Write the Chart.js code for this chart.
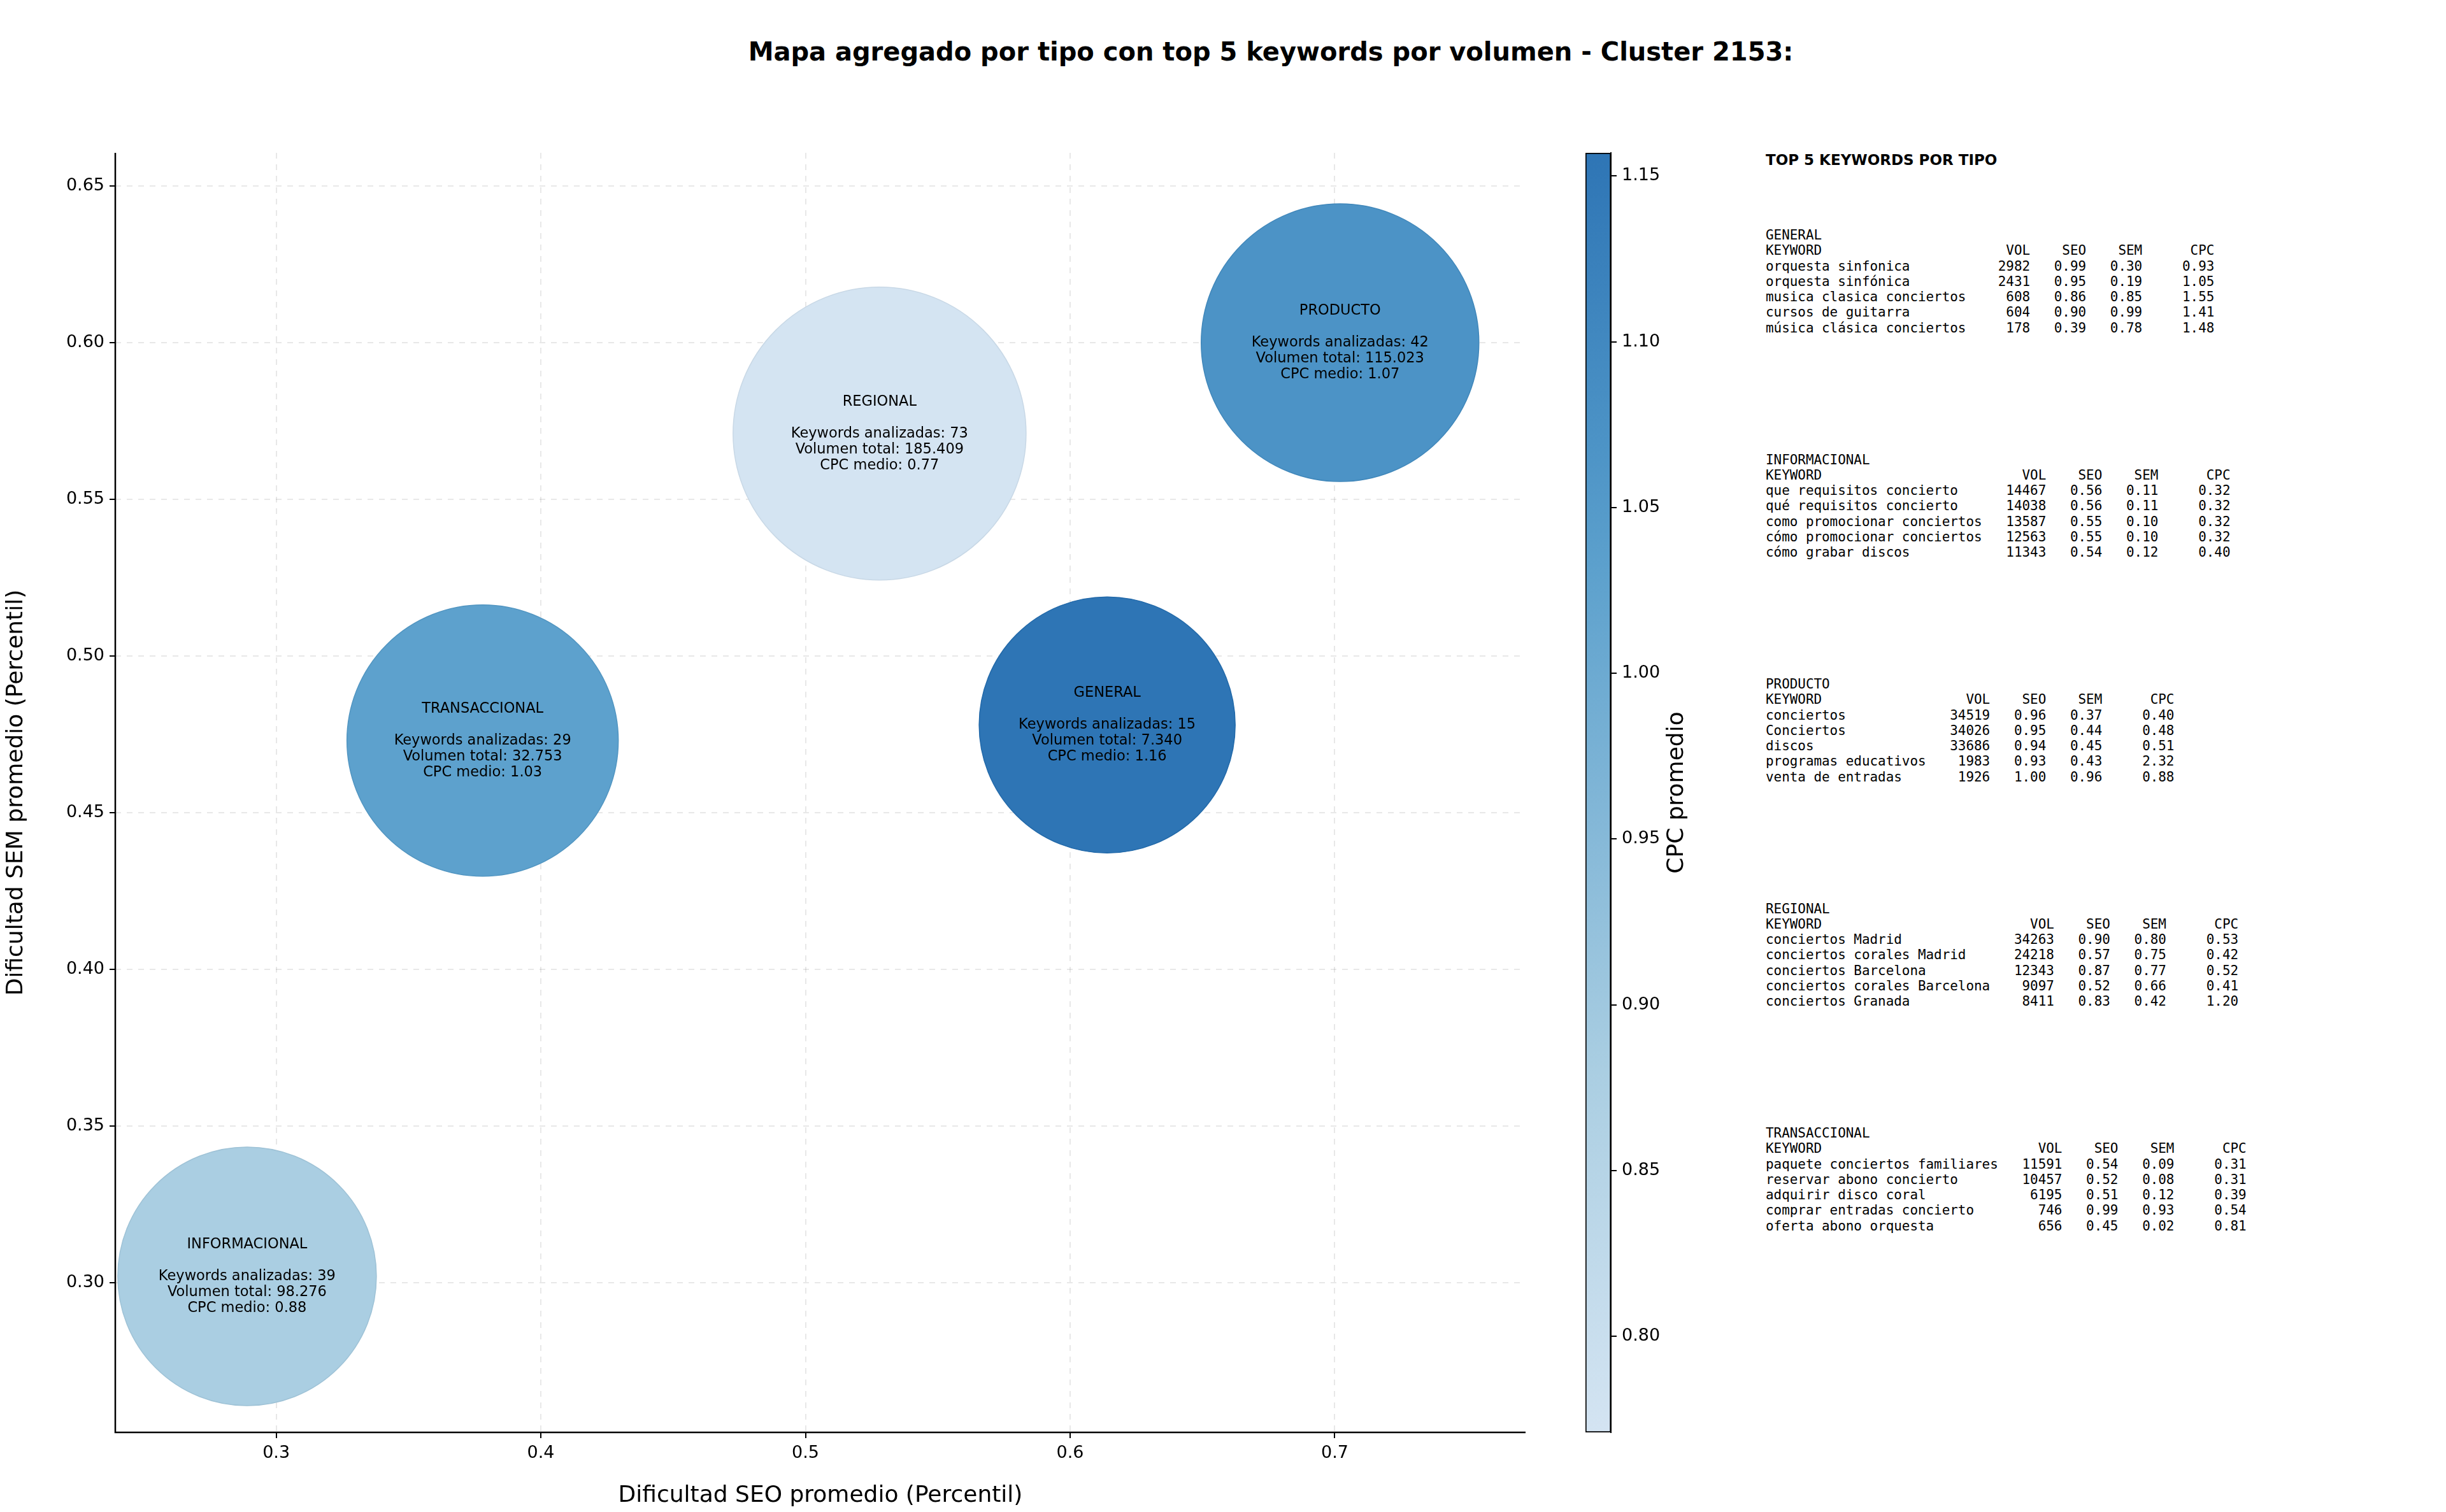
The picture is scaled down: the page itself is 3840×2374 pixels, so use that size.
<!DOCTYPE html>
<html><head><meta charset="utf-8">
<script src="https://cdn.jsdelivr.net/npm/chart.js@4"></script>
<style>
body{margin:0;background:#fff;width:3840px;height:2374px;position:relative;overflow:hidden;font-family:"DejaVu Sans",sans-serif;}
canvas{position:absolute;}
#title{position:absolute;top:58px;left:0;width:3990px;text-align:center;font-weight:bold;font-size:40px;color:#000;}
#ptitle{position:absolute;left:2772px;top:238px;font-weight:bold;font-size:23px;}
pre{position:absolute;left:2772px;margin:0;font-family:"DejaVu Sans Mono",monospace;font-size:20.9px;line-height:24.3px;color:#000;}
</style></head><body>
<div id="title">Mapa agregado por tipo con top 5 keywords por volumen - Cluster 2153:</div>
<canvas id="main" width="2420" height="2374" style="left:0;top:0;width:2420px;height:2374px"></canvas>
<canvas id="cb" width="300" height="2374" style="left:2420px;top:0;width:300px;height:2374px"></canvas>
<div id="ptitle">TOP 5 KEYWORDS POR TIPO</div>
<div id="panel"></div>
<script>
// ---- data ----
const tipos = ["INFORMACIONAL","TRANSACCIONAL","REGIONAL","PRODUCTO","GENERAL"];
const seoProm = [0.289,0.378,0.528,0.702,0.614];
const semProm = [0.302,0.473,0.571,0.600,0.478];
const numKeywords = [39,29,73,42,15];
const volTotal = ["98.276","32.753","185.409","115.023","7.340"];
const cpcMedio = [0.88,1.03,0.77,1.07,1.16];
const bubbleR = [203,213,230,218,201];
const xTicks = [0.3,0.4,0.5,0.6,0.7];
const yTicks = [0.30,0.35,0.40,0.45,0.50,0.55,0.60,0.65];
const cbTicks = [0.80,0.85,0.90,0.95,1.00,1.05,1.10,1.15];
const cmapVals = [0.771,0.88,1.03,1.07,1.157];
const cmapCols = [[212,228,242],[170,206,226],[93,161,205],[76,147,198],[46,117,181]];

const panelOrder = ["GENERAL","INFORMACIONAL","PRODUCTO","REGIONAL","TRANSACCIONAL"];
const kwGeneral = ["orquesta sinfonica","orquesta sinfónica","musica clasica conciertos","cursos de guitarra","música clásica conciertos"];
const volGeneral = [2982,2431,608,604,178];
const seoGeneral = [0.99,0.95,0.86,0.90,0.39];
const semGeneral = [0.30,0.19,0.85,0.99,0.78];
const cpcGeneral = [0.93,1.05,1.55,1.41,1.48];
const kwInfo = ["que requisitos concierto","qué requisitos concierto","como promocionar conciertos","cómo promocionar conciertos","cómo grabar discos"];
const volInfo = [14467,14038,13587,12563,11343];
const seoInfo = [0.56,0.56,0.55,0.55,0.54];
const semInfo = [0.11,0.11,0.10,0.10,0.12];
const cpcInfo = [0.32,0.32,0.32,0.32,0.40];
const kwProd = ["conciertos","Conciertos","discos","programas educativos","venta de entradas"];
const volProd = [34519,34026,33686,1983,1926];
const seoProd = [0.96,0.95,0.94,0.93,1.00];
const semProd = [0.37,0.44,0.45,0.43,0.96];
const cpcProd = [0.40,0.48,0.51,2.32,0.88];
const kwReg = ["conciertos Madrid","conciertos corales Madrid","conciertos Barcelona","conciertos corales Barcelona","conciertos Granada"];
const volReg = [34263,24218,12343,9097,8411];
const seoReg = [0.90,0.57,0.87,0.52,0.83];
const semReg = [0.80,0.75,0.77,0.66,0.42];
const cpcReg = [0.53,0.42,0.52,0.41,1.20];
const kwTrans = ["paquete conciertos familiares","reservar abono concierto","adquirir disco coral","comprar entradas concierto","oferta abono orquesta"];
const volTrans = [11591,10457,6195,746,656];
const seoTrans = [0.54,0.52,0.51,0.99,0.45];
const semTrans = [0.09,0.08,0.12,0.93,0.02];
const cpcTrans = [0.31,0.31,0.39,0.54,0.81];

// ---- helpers ----
function cmap(v){
  if(v<=cmapVals[0]) return cmapCols[0];
  for(let i=1;i<cmapVals.length;i++){
    if(v<=cmapVals[i]){const t=(v-cmapVals[i-1])/(cmapVals[i]-cmapVals[i-1]);
      return cmapCols[i-1].map((c,k)=>Math.round(c+t*(cmapCols[i][k]-c)));}
  }
  return cmapCols[cmapCols.length-1];
}
const rgb=(c,a)=>`rgba(${c[0]},${c[1]},${c[2]},${a??1})`;
const FONT='"DejaVu Sans", sans-serif';
// stop bubble radius from inflating the layout padding
Chart.BubbleController.prototype.getMaxOverflow=function(){return 0;};

// ---- panel ----
const sections={GENERAL:[kwGeneral,volGeneral,seoGeneral,semGeneral,cpcGeneral],
 INFORMACIONAL:[kwInfo,volInfo,seoInfo,semInfo,cpcInfo],
 PRODUCTO:[kwProd,volProd,seoProd,semProd,cpcProd],
 REGIONAL:[kwReg,volReg,seoReg,semReg,cpcReg],
 TRANSACCIONAL:[kwTrans,volTrans,seoTrans,semTrans,cpcTrans]};
const panel=document.getElementById('panel');
panelOrder.forEach((name,si)=>{
  const [kw,vol,seo,sem,cpc]=sections[name];
  const w=Math.max(...kw.map(k=>k.length));
  let lines=[name,"KEYWORD".padEnd(w)+"VOL".padStart(8)+"SEO".padStart(7)+"SEM".padStart(7)+"CPC".padStart(9)];
  kw.forEach((k,i)=>lines.push(k.padEnd(w)+String(vol[i]).padStart(8)+seo[i].toFixed(2).padStart(7)+sem[i].toFixed(2).padStart(7)+cpc[i].toFixed(2).padStart(9)));
  const pre=document.createElement('pre');
  pre.textContent=lines.join("\n");
  pre.style.top=(357+si*352.5)+"px";
  panel.appendChild(pre);
});

// ---- main chart ----
const labelPlugin={id:'lbl',afterDatasetsDraw(chart){
  const ctx=chart.ctx;const meta=chart.getDatasetMeta(0);
  ctx.save();ctx.fillStyle='#000';ctx.textAlign='center';ctx.textBaseline='middle';ctx.font='22.5px '+FONT;
  meta.data.forEach((el,i)=>{
    const lines=[tipos[i],"","Keywords analizadas: "+numKeywords[i],"Volumen total: "+volTotal[i],"CPC medio: "+cpcMedio[i].toFixed(2)];
    lines.forEach((l,j)=>ctx.fillText(l,el.x,el.y+(j-2)*25));
  });
  ctx.restore();
}};
const spinePlugin={id:'spines',afterDraw(chart){
  const {ctx,chartArea:a}=chart;ctx.save();ctx.strokeStyle='#000';ctx.lineWidth=2.5;ctx.setLineDash([]);
  ctx.beginPath();ctx.moveTo(a.left,a.top);ctx.lineTo(a.left,a.bottom);ctx.lineTo(a.right,a.bottom);ctx.stroke();ctx.restore();
}};
new Chart(document.getElementById('main'),{
  type:'bubble',
  data:{datasets:[{data:seoProm.map((x,i)=>({x,y:semProm[i],r:bubbleR[i]})),
    backgroundColor:cpcMedio.map(c=>rgb(cmap(c))),
    borderColor:cpcMedio.map(c=>rgb(cmap(c).map(v=>v-12))),borderWidth:1.5}]},
  options:{responsive:false,animation:false,devicePixelRatio:1,
    events:[],
    layout:{padding:{left:0,top:240,right:25,bottom:0}},
    plugins:{legend:{display:false},tooltip:{enabled:false}},
    scales:{
      x:{type:'linear',min:0.2392,max:0.7721,
        afterFit(s){s.height=125;},
        afterBuildTicks(s){s.ticks=xTicks.map(v=>({value:v}));},
        ticks:{callback:v=>v.toFixed(1),font:{size:27,family:FONT},color:'#000',padding:8},
        grid:{color:'rgba(0,0,0,0.09)',lineWidth:2,tickColor:'#000',tickLength:9,tickBorderDash:[]},
        border:{display:false,dash:[9,9]},
        title:{display:true,text:'Dificultad SEO promedio (Percentil)',font:{size:36,family:FONT},color:'#000',padding:{top:4}}},
      y:{type:'linear',min:0.2522,max:0.6606,
        afterFit(s){s.width=181;},
        afterBuildTicks(s){s.ticks=yTicks.map(v=>({value:v}));},
        ticks:{callback:v=>v.toFixed(2),font:{size:27,family:FONT},color:'#000',padding:8},
        grid:{color:'rgba(0,0,0,0.09)',lineWidth:2,tickColor:'#000',tickLength:9,tickBorderDash:[]},
        border:{display:false,dash:[9,9]},
        title:{display:true,text:'Dificultad SEM promedio (Percentil)',font:{size:36,family:FONT},color:'#000',padding:{bottom:10}}}
    }},
  plugins:[labelPlugin,spinePlugin]
});

// ---- colorbar ----
const cbTitle={id:'cbt',afterDraw(chart){
  const ctx=chart.ctx;const a=chart.chartArea;ctx.save();
  ctx.translate(213,(a.top+a.bottom)/2);ctx.rotate(-Math.PI/2);
  ctx.font='36px '+FONT;ctx.fillStyle='#000';ctx.textAlign='center';ctx.textBaseline='middle';
  ctx.fillText('CPC promedio',0,0);ctx.restore();
}};
new Chart(document.getElementById('cb'),{
  type:'bar',
  data:{labels:['cb'],datasets:[{data:[[cmapVals[0],cmapVals[cmapVals.length-1]]],
    barPercentage:1,categoryPercentage:1,borderSkipped:false,borderWidth:2,borderColor:'#000',
    backgroundColor(ctx){const ca=ctx.chart.chartArea;if(!ca)return '#ccc';
      const g=ctx.chart.ctx.createLinearGradient(0,ca.bottom,0,ca.top);
      const lo=cmapVals[0],hi=cmapVals[cmapVals.length-1];
      cmapVals.forEach((v,i)=>g.addColorStop((v-lo)/(hi-lo),rgb(cmapCols[i])));return g;}}]},
  options:{responsive:false,animation:false,devicePixelRatio:1,events:[],
    layout:{padding:{left:69,top:240,right:0,bottom:125}},
    plugins:{legend:{display:false},tooltip:{enabled:false}},
    scales:{
      x:{display:false},
      y:{position:'right',min:cmapVals[0],max:cmapVals[cmapVals.length-1],
        afterFit(s){s.width=191;},
        afterBuildTicks(s){s.ticks=cbTicks.map(v=>({value:v}));},
        ticks:{callback:v=>v.toFixed(2),font:{size:27,family:FONT},color:'#000',padding:8},
        grid:{display:true,drawOnChartArea:false,tickColor:'#000',tickLength:9,lineWidth:2},
        border:{color:'#000',width:2}}
    }},
  plugins:[cbTitle]
});
</script>
</body></html>
